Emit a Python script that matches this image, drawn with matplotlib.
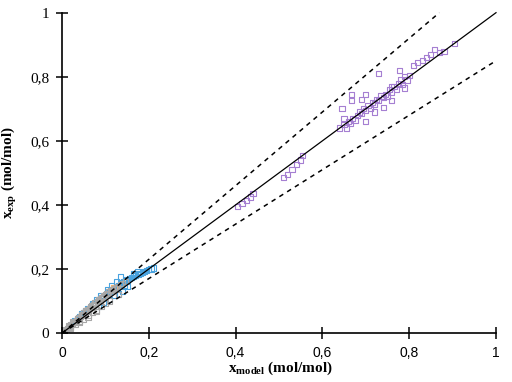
import matplotlib.pyplot as plt

# data (x_model, x_exp)
grey_x = [0.004, 0.008, 0.012, 0.015, 0.018, 0.021, 0.024, 0.027, 0.030, 0.033,
          0.036, 0.039, 0.042, 0.045, 0.048, 0.051, 0.054, 0.057, 0.060, 0.063,
          0.066, 0.069, 0.072, 0.075, 0.078, 0.081, 0.084, 0.088, 0.092, 0.096,
          0.100, 0.104, 0.108, 0.112, 0.117, 0.122, 0.128, 0.134, 0.140, 0.146,
          0.010, 0.020, 0.030, 0.040, 0.050, 0.060, 0.070, 0.080, 0.090, 0.100,
          0.015, 0.025, 0.035, 0.045, 0.055, 0.065, 0.075, 0.085, 0.095, 0.105,
          0.115, 0.125, 0.020, 0.040, 0.060, 0.080, 0.110, 0.130]
grey_y = [0.005, 0.010, 0.014, 0.019, 0.022, 0.026, 0.029, 0.033, 0.037, 0.040,
          0.045, 0.047, 0.052, 0.055, 0.058, 0.063, 0.066, 0.069, 0.074, 0.077,
          0.079, 0.085, 0.088, 0.090, 0.095, 0.098, 0.102, 0.107, 0.110, 0.116,
          0.120, 0.124, 0.128, 0.132, 0.136, 0.140, 0.145, 0.150, 0.156, 0.160,
          0.008, 0.017, 0.028, 0.036, 0.044, 0.055, 0.064, 0.072, 0.083, 0.094,
          0.022, 0.035, 0.046, 0.058, 0.070, 0.082, 0.094, 0.104, 0.114, 0.124,
          0.132, 0.142, 0.015, 0.033, 0.050, 0.068, 0.100, 0.120]
blue_x = [0.030, 0.040, 0.050, 0.058, 0.065, 0.072, 0.078, 0.084, 0.090, 0.095,
          0.100, 0.105, 0.110, 0.114, 0.118, 0.122, 0.126, 0.130, 0.134, 0.138,
          0.142, 0.146, 0.150, 0.155, 0.160, 0.165, 0.170, 0.175, 0.180, 0.185,
          0.190, 0.195, 0.200, 0.205, 0.210, 0.120, 0.130, 0.140, 0.110, 0.150,
          0.095, 0.085, 0.125, 0.135, 0.060, 0.070, 0.080, 0.090, 0.105, 0.115,
          0.145, 0.155, 0.165, 0.175, 0.045, 0.055]
blue_y = [0.040, 0.052, 0.063, 0.071, 0.080, 0.088, 0.093, 0.101, 0.108, 0.112,
          0.118, 0.125, 0.130, 0.133, 0.139, 0.141, 0.146, 0.149, 0.153, 0.158,
          0.160, 0.163, 0.166, 0.170, 0.174, 0.178, 0.180, 0.183, 0.187, 0.190,
          0.192, 0.195, 0.198, 0.200, 0.203, 0.118, 0.122, 0.130, 0.105, 0.145,
          0.095, 0.083, 0.160, 0.175, 0.078, 0.092, 0.105, 0.118, 0.135, 0.148,
          0.150, 0.170, 0.185, 0.192, 0.060, 0.070]
orange_x = [0.085, 0.120]
orange_y = [0.100, 0.142]
purple_x = [0.405, 0.415, 0.425, 0.435, 0.440,
            0.510, 0.520, 0.530, 0.540, 0.550, 0.555,
            0.640, 0.650, 0.655, 0.660, 0.665, 0.670, 0.675, 0.680, 0.685,
            0.690, 0.695, 0.700, 0.705, 0.710, 0.715, 0.720, 0.725, 0.730,
            0.735, 0.740, 0.745, 0.750, 0.755, 0.760, 0.765, 0.770, 0.775,
            0.780, 0.785, 0.790, 0.795, 0.800, 0.700, 0.720, 0.740, 0.760,
            0.667, 0.667, 0.729, 0.778, 0.645, 0.650, 0.690, 0.700, 0.810,
            0.820, 0.830, 0.840, 0.850, 0.858, 0.870, 0.880, 0.904, 0.760, 0.790]
purple_y = [0.395, 0.405, 0.415, 0.425, 0.435,
            0.485, 0.495, 0.510, 0.525, 0.540, 0.555,
            0.640, 0.650, 0.640, 0.660, 0.655, 0.670, 0.665, 0.680, 0.690,
            0.685, 0.700, 0.695, 0.710, 0.700, 0.720, 0.715, 0.730, 0.725,
            0.740, 0.735, 0.745, 0.740, 0.760, 0.750, 0.770, 0.760, 0.780,
            0.790, 0.775, 0.800, 0.790, 0.805, 0.660, 0.690, 0.705, 0.725,
            0.745, 0.725, 0.810, 0.820, 0.700, 0.670, 0.730, 0.745, 0.835,
            0.845, 0.850, 0.860, 0.870, 0.885, 0.875, 0.880, 0.904, 0.770, 0.765]

ticks = [0, 0.2, 0.4, 0.6, 0.8, 1]
tick_labels = ['0', '0,2', '0,4', '0,6', '0,8', '1']

fig = plt.figure(figsize=(5.12, 3.82), dpi=100)
ax = fig.add_axes([0.121, 0.128, 0.852, 0.843])

mk = dict(marker='s', s=14, facecolors='none', linewidths=0.8)
ax.scatter(blue_x, blue_y, edgecolors='#4aa3df', **mk)
ax.scatter(orange_x, orange_y, edgecolors='#f0b070', **mk)
ax.scatter(grey_x, grey_y, edgecolors='#a8a8a8', **mk)
ax.scatter(purple_x, purple_y, edgecolors='#a57fd2', **mk)

ax.plot([0, 1], [0, 1], color='black', lw=0.9)
ax.plot([0, 1 / 1.15], [0, 1], color='black', lw=1.1, ls=(0, (3, 3)))
ax.plot([0, 1], [0, 0.85], color='black', lw=1.1, ls=(0, (3, 3)))

ax.set_xlim(0, 1.005)
ax.set_ylim(0, 1.005)
for s in ['top', 'right']:
    ax.spines[s].set_visible(False)
ax.spines['left'].set_bounds(0, 1)
ax.spines['bottom'].set_bounds(0, 1)
for s in ['left', 'bottom']:
    ax.spines[s].set_linewidth(1.2)
ax.set_xticks(ticks)
ax.set_yticks(ticks)
ax.set_xticklabels(tick_labels, family='Liberation Sans', fontsize=10)
ax.set_yticklabels(tick_labels, family='Liberation Serif', fontsize=11)
ax.tick_params(direction='inout', length=8, width=1.1, pad=5)

ax.set_xlabel(r'x$_{\mathregular{model}}$ (mol/mol)', family='Liberation Serif',
              fontweight='bold', fontsize=11, labelpad=0)
ax.set_ylabel(r'x$_{\mathregular{exp}}$ (mol/mol)', family='Liberation Serif',
              fontweight='bold', fontsize=11, labelpad=8)

fig.savefig('out.png', dpi=100)
